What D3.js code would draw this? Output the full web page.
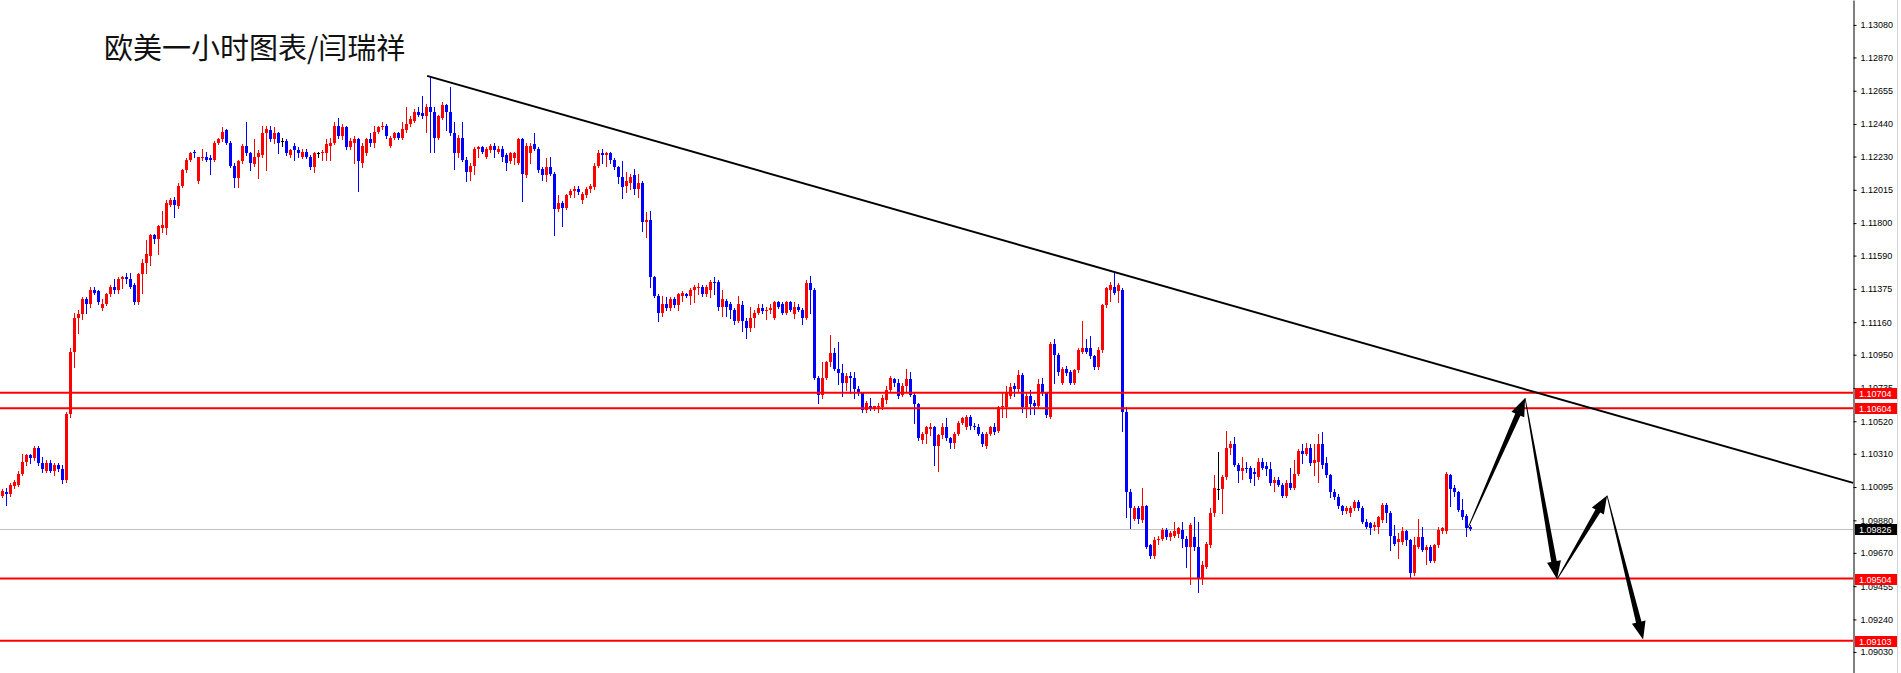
<!DOCTYPE html>
<html><head><meta charset="utf-8">
<script src="https://cdn.jsdelivr.net/npm/d3@7/dist/d3.min.js"></script>
<style>html,body{margin:0;padding:0;background:#fff;overflow:hidden}</style>
</head><body>
<svg id="chart" width="1901" height="673"></svg>
<script>
const chartTitle = "欧美一小时图表/闫瑞祥";
const priceTicks = [1.13080,1.12870,1.12655,1.12440,1.12230,1.12015,1.11800,1.11590,1.11375,1.11160,1.10950,1.10735,1.10520,1.10310,1.10095,1.09880,1.09670,1.09455,1.09240,1.09030];
const levelLines = [1.10704,1.10604,1.09504,1.09103];
const currentPrice = 1.09826;
const trendIdx = [106.2, 462.7];
const trendPrice = [1.12751, 1.10122];
const arrowIdx = [366.4, 380.7, 388.7, 401.2, 410.2];
const arrowPrice = [1.0983, 1.1067, 1.0950, 1.1004, 1.0911];

const candleOpen = [
1.1004,1.1006,1.1005,1.1010,1.1011,1.1018,1.1026,1.1030,1.1028,1.1035,
1.1025,1.1020,1.1025,1.1020,1.1024,1.1021,1.1014,1.1057,1.1097,1.1119,
1.1121,1.1131,1.1128,1.1137,1.1136,1.1125,1.1128,1.1134,1.1139,1.1137,
1.1144,1.1145,1.1144,1.1140,1.1129,1.1147,1.1154,1.1159,1.1172,1.1170,
1.1177,1.1177,1.1192,1.1195,1.1191,1.1204,1.1214,1.1221,1.1226,1.1207,
1.1222,1.1223,1.1222,1.1221,1.1232,1.1234,1.1240,1.1232,1.1217,1.1209,
1.1220,1.1230,1.1225,1.1218,1.1223,1.1224,1.1238,1.1240,1.1234,1.1238,
1.1233,1.1233,1.1224,1.1230,1.1227,1.1223,1.1226,1.1223,1.1216,1.1225,
1.1225,1.1225,1.1230,1.1232,1.1243,1.1236,1.1242,1.1229,1.1232,1.1234,
1.1219,1.1225,1.1234,1.1232,1.1239,1.1242,1.1243,1.1230,1.1235,1.1238,
1.1235,1.1240,1.1244,1.1246,1.1252,1.1251,1.1249,1.1255,1.1252,1.1235,
1.1248,1.1256,1.1252,1.1238,1.1225,1.1235,1.1221,1.1213,1.1217,1.1228,
1.1229,1.1223,1.1227,1.1230,1.1226,1.1228,1.1224,1.1220,1.1222,1.1219,
1.1234,1.1211,1.1225,1.1231,1.1228,1.1215,1.1211,1.1216,1.1212,1.1189,
1.1193,1.1190,1.1198,1.1201,1.1202,1.1195,1.1198,1.1202,1.1203,1.1217,
1.1225,1.1224,1.1225,1.1221,1.1216,1.1210,1.1204,1.1206,1.1211,1.1202,
1.1206,1.1181,1.1182,1.1145,1.1133,1.1122,1.1128,1.1125,1.1131,1.1127,
1.1133,1.1134,1.1133,1.1137,1.1138,1.1139,1.1134,1.1137,1.1142,1.1142,
1.1126,1.1130,1.1128,1.1124,1.1117,1.1127,1.1117,1.1112,1.1119,1.1122,
1.1125,1.1123,1.1124,1.1119,1.1129,1.1128,1.1122,1.1129,1.1121,1.1126,
1.1124,1.1119,1.1141,1.1137,1.1080,1.1069,1.1080,1.1090,1.1096,1.1086,
1.1083,1.1077,1.1081,1.1080,1.1073,1.1070,1.1059,1.1062,1.1060,1.1061,
1.1061,1.1066,1.1072,1.1079,1.1077,1.1069,1.1075,1.1079,1.1069,1.1063,
1.1040,1.1044,1.1047,1.1048,1.1036,1.1043,1.1048,1.1041,1.1038,1.1044,
1.1051,1.1048,1.1055,1.1049,1.1048,1.1044,1.1036,1.1044,1.1048,1.1046,
1.1061,1.1061,1.1068,1.1075,1.1073,1.1082,1.1061,1.1068,1.1064,1.1062,
1.1076,1.1070,1.1055,1.1102,1.1095,1.1077,1.1086,1.1084,1.1077,1.1085,
1.1097,1.1099,1.1099,1.1094,1.1087,1.1098,1.1127,1.1137,1.1139,1.1136,
1.1137,1.1058,1.1006,1.0989,1.0996,1.0988,1.0997,1.0972,1.0965,1.0975,
1.0976,1.0982,1.0977,1.0978,1.0979,1.0982,1.0976,1.0971,1.0977,1.0971,
1.0950,1.0958,1.0972,1.0993,1.1008,1.1008,1.1016,1.1035,1.1037,1.1024,
1.1020,1.1022,1.1022,1.1019,1.1016,1.1026,1.1023,1.1021,1.1012,1.1014,
1.1011,1.1004,1.1012,1.1009,1.1018,1.1033,1.1031,1.1035,1.1025,1.1026,
1.1037,1.1025,1.1017,1.1006,1.1003,1.0997,1.0994,1.0993,1.0996,1.1000,
1.0996,1.0987,1.0986,1.0984,1.0984,1.0988,1.0998,1.0993,1.0978,1.0974,
1.0974,1.0981,1.0975,1.0954,1.0971,1.0977,1.0969,1.0971,1.0962,1.0972,
1.0981,1.0981,1.1017,1.1009,1.1006,1.0995,1.0991,1.0984];

const candleHigh = [
1.1008,1.1009,1.1012,1.1014,1.1020,1.1031,1.1031,1.1031,1.1036,1.1036,
1.1029,1.1027,1.1027,1.1025,1.1025,1.1024,1.1058,1.1099,1.1122,1.1124,
1.1132,1.1132,1.1139,1.1139,1.1137,1.1131,1.1135,1.1140,1.1144,1.1145,
1.1146,1.1148,1.1148,1.1141,1.1148,1.1157,1.1169,1.1173,1.1173,1.1179,
1.1188,1.1195,1.1196,1.1197,1.1206,1.1215,1.1222,1.1226,1.1227,1.1223,
1.1228,1.1226,1.1224,1.1233,1.1235,1.1242,1.1241,1.1233,1.1219,1.1221,
1.1231,1.1245,1.1226,1.1234,1.1227,1.1243,1.1243,1.1243,1.1242,1.1239,
1.1235,1.1234,1.1228,1.1232,1.1229,1.1228,1.1228,1.1224,1.1226,1.1226,
1.1227,1.1234,1.1235,1.1245,1.1248,1.1244,1.1243,1.1235,1.1236,1.1235,
1.1232,1.1235,1.1238,1.1243,1.1243,1.1245,1.1244,1.1236,1.1239,1.1239,
1.1245,1.1255,1.1249,1.1254,1.1255,1.1262,1.1257,1.1275,1.1255,1.1250,
1.1258,1.1257,1.1268,1.1245,1.1237,1.1245,1.1223,1.1219,1.1229,1.1230,
1.1230,1.1229,1.1231,1.1232,1.1230,1.1230,1.1225,1.1226,1.1226,1.1235,
1.1235,1.1232,1.1232,1.1238,1.1229,1.1216,1.1222,1.1223,1.1213,1.1198,
1.1194,1.1199,1.1202,1.1204,1.1204,1.1200,1.1203,1.1205,1.1219,1.1227,
1.1228,1.1226,1.1226,1.1222,1.1217,1.1220,1.1213,1.1212,1.1215,1.1212,
1.1207,1.1187,1.1188,1.1146,1.1134,1.1133,1.1132,1.1132,1.1132,1.1135,
1.1136,1.1135,1.1138,1.1140,1.1141,1.1140,1.1140,1.1143,1.1145,1.1143,
1.1137,1.1131,1.1129,1.1125,1.1133,1.1130,1.1119,1.1126,1.1124,1.1128,
1.1128,1.1126,1.1128,1.1130,1.1130,1.1129,1.1130,1.1130,1.1129,1.1128,
1.1125,1.1143,1.1146,1.1138,1.1081,1.1090,1.1091,1.1108,1.1099,1.1103,
1.1089,1.1083,1.1084,1.1084,1.1075,1.1071,1.1065,1.1067,1.1062,1.1064,
1.1069,1.1075,1.1081,1.1080,1.1079,1.1077,1.1086,1.1084,1.1070,1.1064,
1.1045,1.1049,1.1051,1.1049,1.1044,1.1051,1.1054,1.1042,1.1045,1.1052,
1.1055,1.1056,1.1056,1.1051,1.1050,1.1045,1.1045,1.1049,1.1051,1.1062,
1.1070,1.1075,1.1077,1.1077,1.1085,1.1083,1.1071,1.1072,1.1066,1.1079,
1.1080,1.1071,1.1103,1.1105,1.1096,1.1087,1.1088,1.1085,1.1086,1.1099,
1.1117,1.1105,1.1107,1.1095,1.1100,1.1128,1.1139,1.1142,1.1148,1.1141,
1.1138,1.1061,1.1008,1.0997,1.0997,1.1009,1.0998,1.0973,1.0977,1.0978,
1.0983,1.0983,1.0981,1.0987,1.0984,1.0987,1.0978,1.0986,1.0990,1.0987,
1.0962,1.0974,1.0996,1.1017,1.1032,1.1017,1.1046,1.1039,1.1042,1.1025,
1.1029,1.1026,1.1023,1.1022,1.1028,1.1028,1.1026,1.1026,1.1016,1.1016,
1.1012,1.1014,1.1022,1.1027,1.1034,1.1037,1.1038,1.1037,1.1037,1.1044,
1.1045,1.1029,1.1018,1.1008,1.1005,1.0998,1.0997,1.0997,1.1001,1.1001,
1.0997,1.0989,1.0987,1.0987,1.0991,1.0999,1.0999,1.0994,1.0985,1.0980,
1.0984,1.0982,1.0976,1.0977,1.0989,1.0984,1.0972,1.0972,1.0973,1.0984,
1.0984,1.1019,1.1018,1.1011,1.1007,1.1002,1.0992,1.0985];

const candleLow = [
1.1003,1.0998,1.1004,1.1009,1.1010,1.1017,1.1024,1.1025,1.1027,1.1024,
1.1019,1.1019,1.1019,1.1017,1.1020,1.1012,1.1013,1.1055,1.1087,1.1109,
1.1118,1.1122,1.1126,1.1134,1.1128,1.1124,1.1127,1.1133,1.1135,1.1135,
1.1138,1.1141,1.1138,1.1128,1.1128,1.1135,1.1148,1.1153,1.1167,1.1160,
1.1174,1.1173,1.1191,1.1184,1.1190,1.1203,1.1213,1.1220,1.1223,1.1206,
1.1221,1.1220,1.1212,1.1220,1.1231,1.1233,1.1231,1.1216,1.1203,1.1203,
1.1219,1.1224,1.1214,1.1217,1.1209,1.1223,1.1214,1.1233,1.1232,1.1225,
1.1230,1.1224,1.1223,1.1221,1.1223,1.1222,1.1222,1.1215,1.1213,1.1223,
1.1221,1.1221,1.1221,1.1231,1.1235,1.1234,1.1228,1.1228,1.1219,1.1201,
1.1216,1.1224,1.1230,1.1229,1.1238,1.1241,1.1235,1.1229,1.1234,1.1234,
1.1234,1.1239,1.1243,1.1245,1.1249,1.1248,1.1239,1.1226,1.1226,1.1234,
1.1247,1.1240,1.1237,1.1215,1.1223,1.1220,1.1207,1.1208,1.1212,1.1223,
1.1225,1.1222,1.1226,1.1223,1.1225,1.1220,1.1214,1.1219,1.1218,1.1218,
1.1194,1.1210,1.1219,1.1227,1.1213,1.1208,1.1207,1.1211,1.1172,1.1188,
1.1178,1.1189,1.1197,1.1197,1.1199,1.1193,1.1197,1.1200,1.1202,1.1216,
1.1219,1.1217,1.1219,1.1215,1.1206,1.1196,1.1200,1.1202,1.1199,1.1197,
1.1175,1.1171,1.1139,1.1132,1.1117,1.1120,1.1124,1.1124,1.1126,1.1124,
1.1130,1.1132,1.1128,1.1129,1.1134,1.1133,1.1133,1.1132,1.1134,1.1124,
1.1120,1.1120,1.1119,1.1115,1.1116,1.1110,1.1106,1.1110,1.1113,1.1121,
1.1122,1.1118,1.1122,1.1118,1.1125,1.1121,1.1121,1.1123,1.1119,1.1123,
1.1115,1.1118,1.1122,1.1079,1.1064,1.1067,1.1079,1.1088,1.1085,1.1076,
1.1068,1.1072,1.1070,1.1067,1.1069,1.1058,1.1058,1.1059,1.1059,1.1058,
1.1060,1.1064,1.1071,1.1075,1.1067,1.1068,1.1071,1.1068,1.1051,1.1040,
1.1038,1.1038,1.1043,1.1024,1.1020,1.1041,1.1040,1.1035,1.1035,1.1043,
1.1050,1.1047,1.1047,1.1047,1.1043,1.1036,1.1035,1.1043,1.1044,1.1045,
1.1055,1.1055,1.1067,1.1068,1.1071,1.1058,1.1055,1.1057,1.1057,1.1061,
1.1069,1.1055,1.1054,1.1077,1.1082,1.1076,1.1082,1.1076,1.1076,1.1084,
1.1096,1.1096,1.1093,1.1086,1.1086,1.1097,1.1126,1.1130,1.1134,1.1129,
1.1046,1.0990,1.0983,1.0988,1.0986,1.0987,1.0970,1.0964,1.0964,1.0973,
1.0975,1.0976,1.0975,1.0977,1.0977,1.0971,1.0958,1.0947,1.0969,1.0942,
1.0947,1.0957,1.0971,1.0991,1.1002,1.0993,1.1015,1.1031,1.1023,1.1013,
1.1015,1.1019,1.1013,1.1011,1.1015,1.1021,1.1017,1.1011,1.1007,1.1010,
1.1003,1.1003,1.1008,1.1008,1.1017,1.1025,1.1030,1.1024,1.1017,1.1013,
1.1022,1.1016,1.1003,1.1002,1.0996,1.0992,1.0993,1.0991,1.0995,1.0995,
1.0986,1.0983,1.0979,1.0982,1.0980,1.0987,1.0987,1.0969,1.0972,1.0964,
1.0973,1.0972,1.0951,1.0953,1.0970,1.0968,1.0960,1.0961,1.0961,1.0971,
1.0980,1.0980,1.0997,1.1004,1.0994,1.0989,1.0978,1.0982];

const candleClose = [
1.1007,1.1005,1.1011,1.1013,1.1018,1.1026,1.1030,1.1028,1.1035,1.1025,
1.1021,1.1025,1.1020,1.1024,1.1021,1.1014,1.1057,1.1097,1.1119,1.1121,
1.1131,1.1128,1.1137,1.1135,1.1129,1.1128,1.1134,1.1139,1.1137,1.1144,
1.1145,1.1144,1.1139,1.1129,1.1147,1.1154,1.1160,1.1172,1.1170,1.1178,
1.1179,1.1193,1.1195,1.1192,1.1204,1.1214,1.1221,1.1225,1.1225,1.1223,
1.1223,1.1221,1.1221,1.1232,1.1234,1.1239,1.1232,1.1217,1.1209,1.1220,
1.1230,1.1225,1.1219,1.1223,1.1225,1.1238,1.1241,1.1234,1.1238,1.1232,
1.1233,1.1225,1.1227,1.1227,1.1225,1.1226,1.1223,1.1216,1.1225,1.1225,
1.1226,1.1231,1.1232,1.1243,1.1236,1.1242,1.1229,1.1233,1.1234,1.1220,
1.1230,1.1234,1.1232,1.1239,1.1242,1.1243,1.1236,1.1235,1.1238,1.1235,
1.1241,1.1244,1.1247,1.1252,1.1250,1.1249,1.1255,1.1252,1.1235,1.1249,
1.1256,1.1252,1.1238,1.1225,1.1235,1.1221,1.1213,1.1217,1.1228,1.1229,
1.1226,1.1228,1.1230,1.1227,1.1228,1.1223,1.1219,1.1225,1.1225,1.1234,
1.1212,1.1230,1.1230,1.1228,1.1214,1.1211,1.1216,1.1212,1.1189,1.1193,
1.1190,1.1198,1.1201,1.1202,1.1200,1.1199,1.1202,1.1204,1.1217,1.1225,
1.1224,1.1225,1.1221,1.1216,1.1210,1.1203,1.1207,1.1210,1.1202,1.1206,
1.1181,1.1182,1.1145,1.1133,1.1122,1.1128,1.1125,1.1131,1.1127,1.1134,
1.1135,1.1133,1.1137,1.1139,1.1139,1.1134,1.1139,1.1142,1.1141,1.1126,
1.1131,1.1126,1.1124,1.1117,1.1128,1.1117,1.1112,1.1119,1.1122,1.1125,
1.1123,1.1124,1.1125,1.1129,1.1126,1.1122,1.1129,1.1124,1.1126,1.1124,
1.1119,1.1141,1.1137,1.1080,1.1069,1.1080,1.1090,1.1096,1.1086,1.1083,
1.1077,1.1081,1.1080,1.1073,1.1070,1.1059,1.1064,1.1060,1.1062,1.1062,
1.1067,1.1072,1.1080,1.1077,1.1068,1.1075,1.1079,1.1069,1.1063,1.1041,
1.1044,1.1048,1.1048,1.1036,1.1043,1.1048,1.1041,1.1038,1.1044,1.1051,
1.1054,1.1055,1.1049,1.1048,1.1044,1.1037,1.1044,1.1048,1.1045,1.1061,
1.1062,1.1070,1.1074,1.1073,1.1082,1.1061,1.1068,1.1063,1.1062,1.1076,
1.1070,1.1056,1.1102,1.1095,1.1084,1.1086,1.1083,1.1077,1.1085,1.1098,
1.1099,1.1097,1.1094,1.1087,1.1098,1.1127,1.1138,1.1140,1.1135,1.1140,
1.1058,1.1006,1.0996,1.0996,1.0989,1.0997,1.0971,1.0965,1.0975,1.0976,
1.0982,1.0977,1.0980,1.0981,1.0983,1.0976,1.0971,1.0985,1.0971,1.0950,
1.0959,1.0973,1.0993,1.1009,1.1008,1.1016,1.1035,1.1037,1.1024,1.1020,
1.1022,1.1021,1.1015,1.1018,1.1026,1.1022,1.1021,1.1012,1.1014,1.1011,
1.1004,1.1012,1.1009,1.1018,1.1033,1.1031,1.1035,1.1025,1.1027,1.1037,
1.1024,1.1017,1.1006,1.1003,1.0997,1.0994,1.0996,1.0996,1.1000,1.0996,
1.0987,1.0984,1.0983,1.0985,1.0990,1.0998,1.0993,1.0978,1.0973,1.0976,
1.0981,1.0975,1.0954,1.0972,1.0977,1.0969,1.0971,1.0962,1.0972,1.0982,
1.0983,1.1018,1.1008,1.1006,1.0995,1.0990,1.0983,1.09826];

const W = 1901, H = 673, axisX = 1853;
const svg = d3.select("#chart");
svg.append("rect").attr("width", W).attr("height", H).attr("fill", "#fff");

const n = Math.min(candleOpen.length, candleHigh.length, candleLow.length, candleClose.length);
const x = d3.scaleLinear().domain([0, 367]).range([2.3, 1470.3]);
const y = d3.scaleLinear().domain([1.08894, 1.13241]).range([H, 0]);

const plot = svg.append("g");
// current price line
plot.append("line").attr("x1", 0).attr("x2", axisX).attr("y1", Math.round(y(currentPrice)) + 0.5).attr("y2", Math.round(y(currentPrice)) + 0.5)
  .attr("stroke", "#c0c0c0").attr("stroke-width", 1);

// candles
const candles = d3.range(n).map(i => ({i, o: candleOpen[i], h: candleHigh[i], l: candleLow[i], c: candleClose[i]}));
const colorOf = d => d.c > d.o ? "#ff0000" : (d.c < d.o ? "#0000ff" : "#000000");
const cg = plot.append("g").attr("shape-rendering", "crispEdges");
cg.selectAll("line.wick").data(candles).join("line").attr("class", "wick")
  .attr("x1", d => Math.floor(x(d.i)) + 0.5).attr("x2", d => Math.floor(x(d.i)) + 0.5)
  .attr("y1", d => Math.round(y(d.h))).attr("y2", d => Math.round(y(d.l)) + 1)
  .attr("stroke", colorOf).attr("stroke-width", 1);
cg.selectAll("rect.body").data(candles).join("rect").attr("class", "body")
  .attr("x", d => Math.floor(x(d.i)) - 1).attr("width", 3)
  .attr("y", d => Math.round(y(Math.max(d.o, d.c))))
  .attr("height", d => Math.max(1, Math.round(y(Math.min(d.o, d.c))) - Math.round(y(Math.max(d.o, d.c)))))
  .attr("fill", colorOf);

// level lines
plot.selectAll("line.level").data(levelLines).join("line").attr("class", "level")
  .attr("x1", 0).attr("x2", axisX).attr("y1", d => y(d)).attr("y2", d => y(d))
  .attr("stroke", "#ff0000").attr("stroke-width", 2);

// trend line
plot.append("line")
  .attr("x1", x(trendIdx[0])).attr("y1", y(trendPrice[0]))
  .attr("x2", x(trendIdx[1])).attr("y2", y(trendPrice[1]))
  .attr("stroke", "#000").attr("stroke-width", 2);

// projected arrows
function arrowPoly(x0, y0, x1, y1) {
  const dx = x1 - x0, dy = y1 - y0, L = Math.hypot(dx, dy);
  const ux = dx / L, uy = dy / L, nx = -uy, ny = ux;
  const hl = 18, hw = 7, sw = 2.8, tw = 0.4;
  const bx = x1 - ux * hl, by = y1 - uy * hl;
  return [[x0 + nx * tw, y0 + ny * tw], [bx + nx * sw, by + ny * sw], [bx + nx * hw, by + ny * hw], [x1, y1],
          [bx - nx * hw, by - ny * hw], [bx - nx * sw, by - ny * sw], [x0 - nx * tw, y0 - ny * tw]];
}
const segs = d3.range(arrowIdx.length - 1).map(k => arrowPoly(x(arrowIdx[k]), y(arrowPrice[k]), x(arrowIdx[k + 1]), y(arrowPrice[k + 1])));
plot.selectAll("polygon.arrow").data(segs).join("polygon").attr("class", "arrow")
  .attr("points", d => d.map(p => p.join(",")).join(" ")).attr("fill", "#000");

// title
svg.append("text").attr("x", 104).attr("y", 58.5).text(chartTitle)
  .attr("font-family", "'Noto Sans CJK SC', sans-serif").attr("font-size", 29).attr("fill", "#111");

// axis
const axis = d3.axisRight(y).tickValues(priceTicks).tickFormat(d3.format(".5f")).tickSize(3).tickSizeOuter(0).tickPadding(4);
const ag = svg.append("g").attr("transform", `translate(${axisX + 0.5},0)`).call(axis);
ag.select(".domain").attr("stroke", "#000");
ag.selectAll(".tick line").attr("stroke", "#000");
ag.selectAll(".tick text").attr("font-family", "'Liberation Sans', Arial, sans-serif").attr("font-size", 9).attr("fill", "#000");

// price labels
const labels = levelLines.map(v => ({v, bg: "#ff0000"})).concat([{v: currentPrice, bg: "#000000"}]);
const lg = svg.append("g");
lg.selectAll("rect").data(labels).join("rect")
  .attr("x", axisX + 2).attr("width", 42).attr("y", d => Math.round(y(d.v)) - 5).attr("height", 11).attr("fill", d => d.bg);
lg.selectAll("text").data(labels).join("text")
  .attr("x", axisX + 6).attr("y", d => Math.round(y(d.v)) + 4).text(d => d3.format(".5f")(d.v))
  .attr("font-family", "'Liberation Sans', Arial, sans-serif").attr("font-size", 9).attr("fill", "#fff");

// right border
svg.append("line").attr("x1", 1897.5).attr("x2", 1897.5).attr("y1", 0).attr("y2", H).attr("stroke", "#d4d4d4");
</script>
</body></html>
